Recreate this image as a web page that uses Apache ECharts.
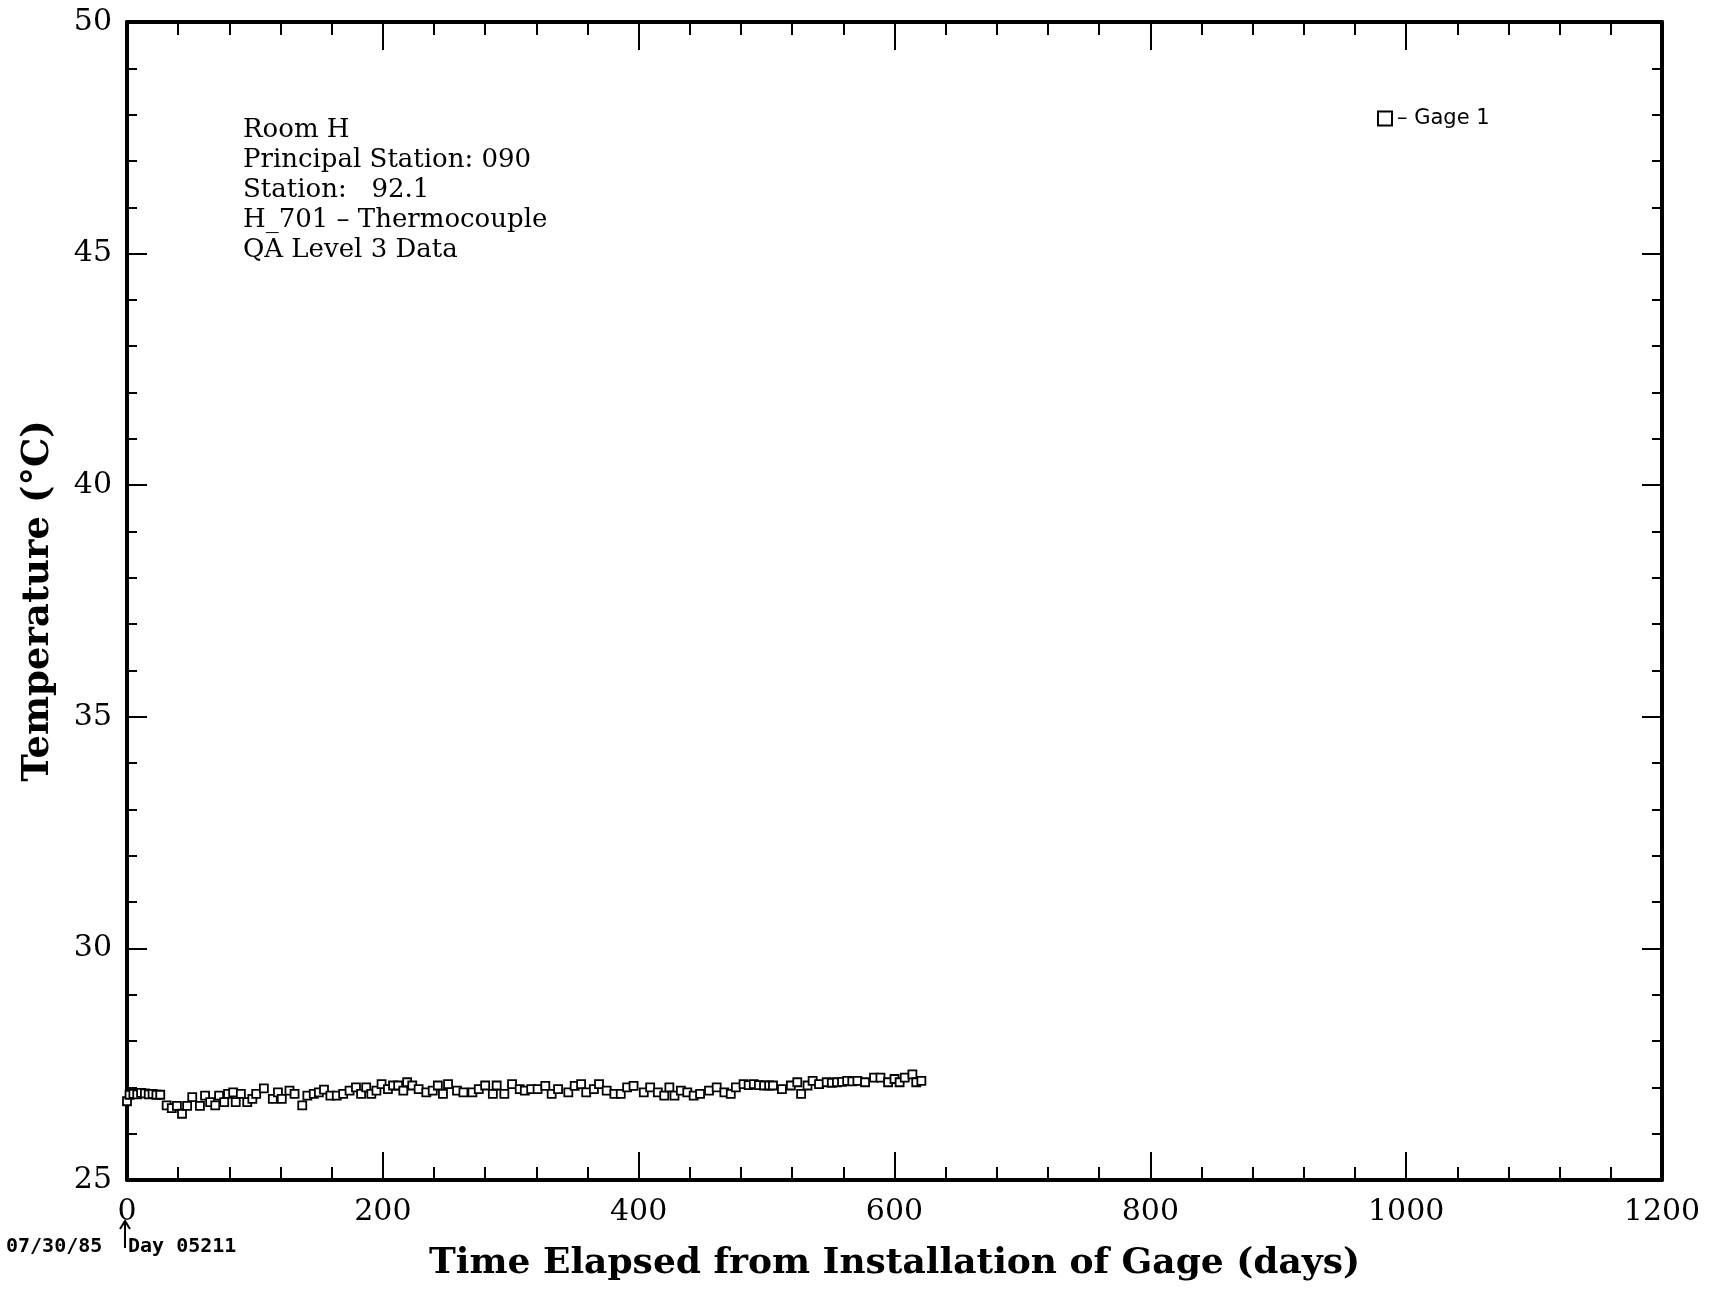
<!DOCTYPE html>
<html>
<head>
<meta charset="utf-8">
<title>Room H - H_701 Thermocouple</title>
<script src="https://cdn.jsdelivr.net/npm/echarts@6/dist/echarts.min.js"></script>
<style>
  html, body { margin: 0; padding: 0; background: #fff; }
  #main { width: 1718px; height: 1290px; }
</style>
</head>
<body>
<div id="main"></div>
<script>
// days since gage installation (07/30/85)
var days = [0, 2, 5, 8, 11, 14, 17, 20, 23, 26, 31, 35, 39, 43, 47, 51, 57, 61, 65, 69,
  72, 76, 79, 83, 85, 89, 94, 98, 101, 107, 114, 118, 121, 127, 131, 137, 141, 146, 150, 154,
  159, 164, 169, 174, 179, 183, 187, 191, 195, 199, 204, 208, 212, 216, 219, 223, 228, 234, 239, 243,
  247, 251, 258, 263, 270, 275, 280, 286, 289, 295, 301, 307, 311, 316, 321, 327, 332, 337, 345, 350,
  355, 359, 365, 369, 375, 381, 386, 391, 396, 404, 409, 415, 420, 424, 428, 433, 438, 443, 448, 455,
  461, 467, 472, 476, 482, 486, 490, 494, 498, 502, 505, 512, 519, 524, 527, 532, 536, 541, 547, 551,
  555, 559, 563, 567, 571, 577, 584, 589, 595, 600, 604, 608, 614, 617, 621];

// gage 1 temperature, deg C
var gage1 = [26.70, 26.84, 26.86, 26.85, 26.88, 26.87, 26.85, 26.86, 26.84, 26.84, 26.61, 26.55, 26.60, 26.43, 26.60, 26.79, 26.60, 26.82, 26.68, 26.61,
  26.82, 26.68, 26.86, 26.89, 26.68, 26.86, 26.68, 26.75, 26.86, 26.98, 26.75, 26.89, 26.75, 26.93, 26.86, 26.61, 26.82, 26.86, 26.89, 26.95,
  26.82, 26.82, 26.86, 26.93, 27.00, 26.86, 27.00, 26.86, 26.93, 27.07, 26.96, 27.04, 27.04, 26.93, 27.11, 27.04, 26.96, 26.89, 26.93, 27.04,
  26.86, 27.07, 26.93, 26.89, 26.89, 26.96, 27.04, 26.86, 27.04, 26.86, 27.07, 26.96, 26.93, 26.96, 26.96, 27.03, 26.86, 26.96, 26.89, 27.03,
  27.07, 26.89, 26.96, 27.07, 26.93, 26.86, 26.86, 27.00, 27.03, 26.89, 27.00, 26.89, 26.82, 27.00, 26.82, 26.93, 26.89, 26.82, 26.86, 26.93,
  27.00, 26.89, 26.86, 27.00, 27.07, 27.05, 27.07, 27.05, 27.04, 27.04, 27.04, 26.96, 27.04, 27.11, 26.86, 27.04, 27.14, 27.07, 27.11, 27.10,
  27.11, 27.12, 27.14, 27.13, 27.14, 27.11, 27.21, 27.21, 27.11, 27.18, 27.11, 27.21, 27.28, 27.11, 27.14];

var noteLines = ['Room H', 'Principal Station: 090', 'Station:   92.1', 'H_701 \u2013 Thermocouple', 'QA Level 3 Data'];

var points = days.map(function (d, i) { return [d, gage1[i]]; });

var serif = '"DejaVu Serif", serif';
var mono = '"DejaVu Sans Mono", monospace';

function xAx(pos, showLabels) {
  return {
    type: 'value', position: pos, min: 0, max: 1200, interval: 200,
    axisLine: { show: true, onZero: false, lineStyle: { color: '#000', width: 4 } },
    axisTick: { show: true, inside: true, length: 28, lineStyle: { color: '#000', width: 2 } },
    minorTick: { show: true, splitNumber: 5, length: 13, lineStyle: { color: '#000', width: 2 } },
    axisLabel: {
      show: showLabels, color: '#000', fontFamily: serif, fontSize: 30, margin: 17,
      formatter: function (v) { return String(v); }
    },
    splitLine: { show: false }
  };
}
function yAx(pos, showLabels) {
  return {
    type: 'value', position: pos, min: 25, max: 50, interval: 5,
    axisLine: { show: true, onZero: false, lineStyle: { color: '#000', width: 4 } },
    axisTick: { show: true, inside: true, length: 20, lineStyle: { color: '#000', width: 2 } },
    minorTick: { show: true, splitNumber: 5, length: 10, lineStyle: { color: '#000', width: 2 } },
    axisLabel: { show: showLabels, color: '#000', fontFamily: serif, fontSize: 30, margin: 15 },
    splitLine: { show: false }
  };
}

var chart = echarts.init(document.getElementById('main'));

var xBottom = xAx('bottom', true);
xBottom.name = 'Time Elapsed from Installation of Gage (days)';
xBottom.nameLocation = 'middle';
xBottom.nameGap = 66;
xBottom.nameTextStyle = { color: '#000', fontFamily: serif, fontWeight: 'bold', fontSize: 36 };

var yLeft = yAx('left', true);
yLeft.name = 'Temperature (\u00B0C)';
yLeft.nameLocation = 'middle';
yLeft.nameGap = 70;
yLeft.nameTextStyle = { color: '#000', fontFamily: serif, fontWeight: 'bold', fontSize: 37 };

var option = {
  animation: false,
  backgroundColor: '#fff',
  grid: { left: 127, right: 56, top: 22, bottom: 110 },
  xAxis: [xBottom, xAx('top', false)],
  yAxis: [yLeft, yAx('right', false)],
  legend: {
    left: 1372, top: 103,
    itemWidth: 14, itemHeight: 14, itemGap: 6,
    icon: 'rect',
    data: ['Gage 1'],
    formatter: function (name) { return '\u2013 ' + name; },
    textStyle: { color: '#000', fontFamily: '"DejaVu Sans", sans-serif', fontSize: 21 },
    itemStyle: { color: '#fff', borderColor: '#000', borderWidth: 2 }
  },
  graphic: [
    {
      type: 'text', left: 243, top: 115,
      style: { text: noteLines.join('\n'), font: '26px ' + serif, fill: '#000', lineHeight: 30 }
    },
    {
      type: 'text', left: 6, top: 1237,
      style: { text: '07/30/85', font: 'bold 20px ' + mono, fill: '#000' }
    },
    {
      type: 'text', left: 128, top: 1237,
      style: { text: 'Day 05211', font: 'bold 20px ' + mono, fill: '#000' }
    },
    {
      type: 'polyline',
      shape: { points: [[125, 1248], [125, 1222]] },
      style: { stroke: '#000', lineWidth: 2, fill: null }
    },
    {
      type: 'polyline',
      shape: { points: [[120, 1229], [125, 1221], [130, 1229]] },
      style: { stroke: '#000', lineWidth: 2, fill: null }
    }
  ],
  series: [{
    name: 'Gage 1',
    type: 'scatter',
    xAxisIndex: 0, yAxisIndex: 0,
    symbol: 'rect', symbolSize: 8,
    itemStyle: { color: '#fff', borderColor: '#000', borderWidth: 1.8, opacity: 1 },
    data: points
  }]
};

chart.setOption(option);
</script>
</body>
</html>
